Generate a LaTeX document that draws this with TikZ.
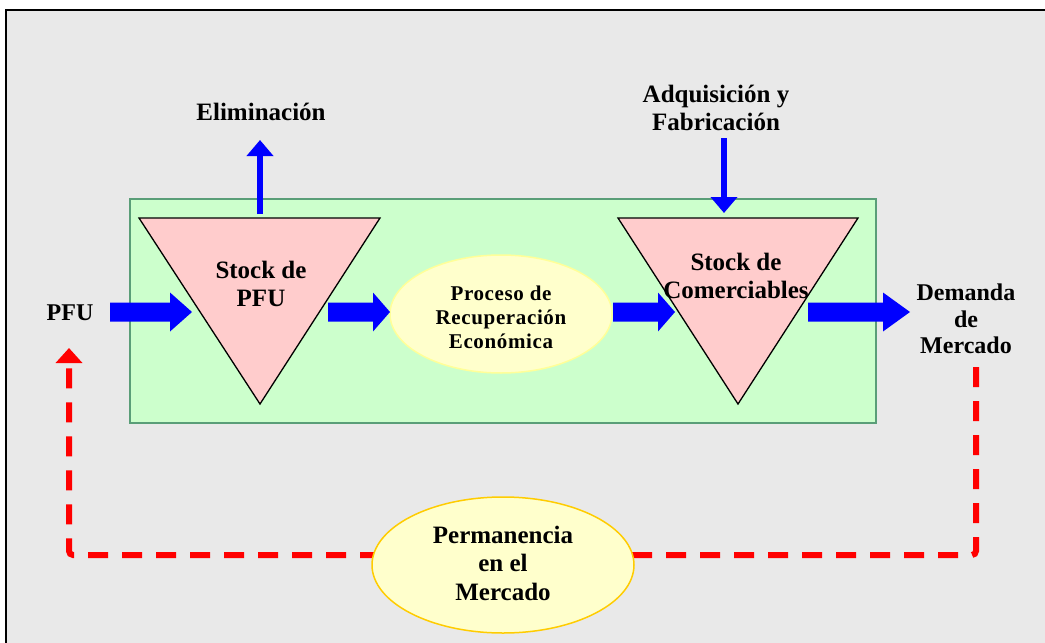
\documentclass[tikz,border=0pt]{standalone}
\usepackage{fontspec}
\setmainfont{Liberation Serif}
\newfontfamily\spacedserif[LetterSpace=3]{Liberation Serif}
\usetikzlibrary{arrows.meta,shapes.geometric}

\definecolor{bggray}{HTML}{E9E9E9}
\definecolor{boxgreen}{HTML}{CCFFCC}
\definecolor{boxedge}{HTML}{5A9E78}
\definecolor{stockpink}{HTML}{FFCCCC}
\definecolor{procfill}{HTML}{FFFFCC}
\definecolor{procedge}{HTML}{FFFF99}
\definecolor{permedge}{HTML}{FFCC00}
\definecolor{flowblue}{HTML}{0000FF}
\definecolor{loopred}{HTML}{FF0000}

% horizontal block arrow: from x1 to tip x2 at height y, head starting at xh
\newcommand\blockarrow[4]{%
  \fill[flowblue] (#1,#4-9.5) -- (#3,#4-9.5) -- (#3,#4-19.5) -- (#2,#4)
    -- (#3,#4+19.5) -- (#3,#4+9.5) -- (#1,#4+9.5) -- cycle;}

\tikzset{
  lbl/.style={font=\bfseries\fontsize{25}{28}\selectfont, align=center, inner sep=0pt},
  stock/.style={draw=black, line width=1.3, fill=stockpink, line join=miter},
  thinflow/.style={draw=flowblue, line width=6.5,
    -{Triangle[width=26pt,length=16pt]}},
  loop/.style={draw=loopred, line width=6, dash pattern=on 20pt off 14pt,
    rounded corners=4, -{Triangle[width=26pt,length=15pt]}},
}

\begin{document}
\begin{tikzpicture}[x=1pt,y=-1pt]
\useasboundingbox (0,0) rectangle (1045,643);
\clip (0,0) rectangle (1045,643);

% slide background with its frame
\fill[white] (0,0) rectangle (1045,643);
\draw[black, line width=2, fill=bggray] (6,10) rectangle (1100,700);

% system boundary
\draw[boxedge, line width=2, fill=boxgreen] (130,199) rectangle (876,423);

% stock triangles
\filldraw[stock] (139,218) -- (380,218) -- (260,404) -- cycle;
\filldraw[stock] (618,218) -- (858,218) -- (738,404) -- cycle;
\node[lbl] (s1) at (261,284) {Stock de\\PFU};
\node[lbl] (s2) at (736,276) {Stock de\\Comerciables};

% recovery process
\node[ellipse, draw=procedge, line width=1.5, fill=procfill,
      minimum width=222, minimum height=118, inner sep=0pt] (proc) at (501,314) {};
\node[font=\bfseries\spacedserif\fontsize{21}{24}\selectfont, align=center, inner sep=0pt]
      (proct) at (501,317) {Proceso de\\Recuperación\\Económica};

% outer labels
\node[lbl] (elim) at (261,112) {Eliminación};
\node[lbl] (adq) at (716,108) {Adquisición y\\Fabricación};
\node[lbl, font=\bfseries\fontsize{24}{26.5}\selectfont] (pfu) at (70,313) {PFU};
\node[lbl, font=\bfseries\fontsize{24}{26.5}\selectfont] (dem) at (966,319) {Demanda\\de\\Mercado};

% material flows
\blockarrow{110}{192}{170}{312}
\blockarrow{328}{390}{373}{312}
\blockarrow{613}{675}{658}{312}
\blockarrow{808}{910}{883}{312}
\coordinate (elimfoot) at (260,214);
\coordinate (elimtip) at (260,140);
\draw[thinflow] (elimfoot) -- (elimtip);
\coordinate (adqfoot) at (724,138);
\coordinate (adqtip) at (724,213);
\draw[thinflow] (adqfoot) -- (adqtip);

% market feedback loop
\coordinate (loopstart) at (976,367);
\coordinate (loopend) at (69,348);
\draw[loop] (loopstart) -- (976,555) -- (69,555) -- (loopend);

\node[ellipse, draw=permedge, line width=1.5, fill=procfill,
      minimum width=262, minimum height=136, inner sep=0pt] (perm) at (503,565) {};
\node[lbl, font=\bfseries\fontsize{25}{28.5}\selectfont] (permt) at (503,563)
      {Permanencia\\en el\\Mercado};
\end{tikzpicture}
\end{document}
